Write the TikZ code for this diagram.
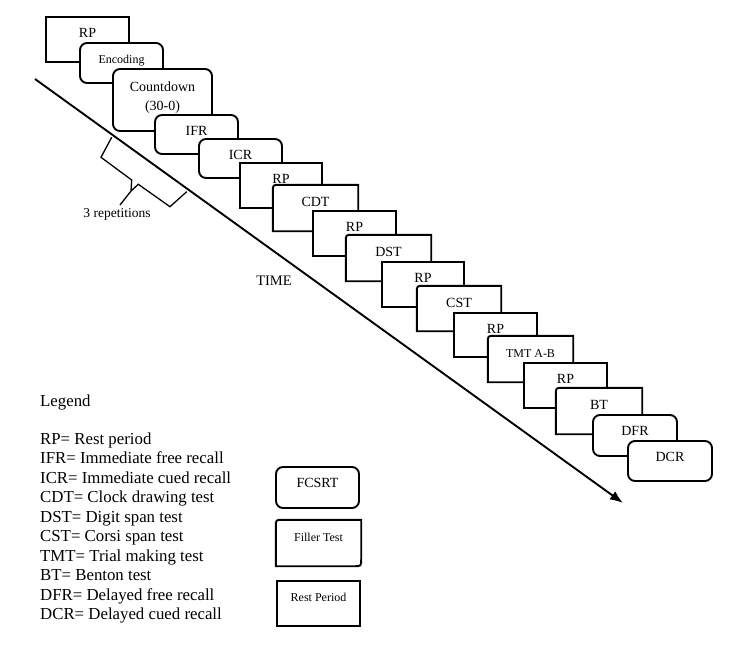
\documentclass[tikz,border=0pt]{standalone}
\usepackage{fontspec}
\setmainfont{Liberation Serif}
\usetikzlibrary{fit,calc,arrows.meta}
\tikzset{
  boxline/.style={line width=1.9pt, draw=black, fill=white},
  sqbox/.style={boxline, inner sep=0pt},
  rdbox/.style={boxline, inner sep=0pt, rounded corners=7pt},
  flbox/.style={inner sep=0pt},
  blbl/.style={inner sep=0pt, font=\fontsize{14}{16}\selectfont},
  slbl/.style={inner sep=0pt, font=\fontsize{12}{14}\selectfont},
  legtxt/.style={inner sep=0pt, anchor=base west, font=\fontsize{16.8}{19}\selectfont},
  timeline/.style={line width=1.9pt, -{Latex[length=13pt,width=10pt]}},
  braceline/.style={line width=1.3pt, line join=miter},
}
% square box
\newcommand\boxS[7]{%
  \node[sqbox, fit={(#2,#3) (#4,#5)}] (#1) {};
  \node[#7, anchor=base] (#1t) at ($(#1.north)+(0,21.5)$) {#6};}
% all rounded box
\newcommand\boxR[7]{%
  \node[rdbox, fit={(#2,#3) (#4,#5)}] (#1) {};
  \node[#7, anchor=base] (#1t) at ($(#1.north)+(0,21.5)$) {#6};}
% filler box: top-left and bottom-right rounded
\newcommand\boxF[7]{%
  \node[flbox, fit={(#2,#3) (#4,#5)}] (#1) {};
  \draw[boxline] (#1.south west) -- ($(#1.north west)+(0,7)$)
    .. controls (#1.north west) .. ($(#1.north west)+(7,0)$)
    -- (#1.north east) -- ($(#1.south east)+(0,-7)$)
    .. controls (#1.south east) .. ($(#1.south east)+(-7,0)$) -- cycle;
  \node[#7, anchor=base] (#1t) at ($(#1.north)+(0,21.5)$) {#6};}
\begin{document}
\begin{tikzpicture}[x=1pt,y=-1pt]
\useasboundingbox (0,0) rectangle (745,646);

% time line
\coordinate (ts) at (35,79);
\coordinate (te) at (623,503);
\draw[timeline] (ts) -- (te);

% brace for repetitions
\coordinate (b1) at (111.7,137.3);
\coordinate (b2) at (101,157.3);
\coordinate (b3) at (131.7,180);
\coordinate (b4) at (131,191);
\coordinate (b5) at (138.3,184.3);
\coordinate (b6) at (170,206.7);
\coordinate (b7) at (186.7,191.7);
\coordinate (b8) at (120,205);
\draw[braceline] (b1) -- (b2) -- (b3) -- (b4) -- (b5) -- (b6) -- (b7);
\draw[braceline] (b4) -- (b8);
\node[blbl, font=\fontsize{13.5}{15}\selectfont] (rep) at (117,214) {3 repetitions};
\node[blbl, font=\fontsize{14.5}{16}\selectfont] (time) at (274,281) {TIME};

% boxes
\boxS{rpa}{46}{17}{129}{62}{RP}{blbl}
\boxR{enc}{80}{43}{163}{83}{Encoding}{slbl}
\node[rdbox, fit={(113,69) (212,131)}] (cnt) {};
\node[blbl, align=center, font=\fontsize{14}{19}\selectfont] (cntt) at (162.5,97.5) {Countdown\\(30-0)};
\boxR{ifr}{155}{115}{238}{154}{IFR}{blbl}
\boxR{icr}{199}{139}{282}{178}{ICR}{blbl}
\boxS{rpb}{240}{163}{322}{208}{RP}{blbl}
\boxF{cdt}{273}{185}{358}{231}{CDT}{blbl}
\boxS{rpc}{313}{211}{396}{256}{RP}{blbl}
\boxF{dst}{346}{235}{431}{281}{DST}{blbl}
\boxS{rpd}{382}{262}{464}{307}{RP}{blbl}
\boxF{cst}{417}{286}{501}{331}{CST}{blbl}
\boxS{rpe}{454}{313}{537}{357}{RP}{blbl}
\boxF{tmt}{488}{336}{573}{382}{TMT A-B}{slbl}
\boxS{rpf}{524}{363}{607}{408}{RP}{blbl}
\boxF{bt}{556}{388}{642}{434}{BT}{blbl}
\boxR{dfr}{593}{415}{677}{456}{DFR}{blbl}
\boxR{dcr}{628}{441}{712}{481}{DCR}{blbl}

% legend
\node[legtxt] (leg) at (40,406) {Legend};
\foreach \t [count=\i] in {RP= Rest period, IFR= Immediate free recall, ICR= Immediate cued recall, CDT= Clock drawing test, DST= Digit span test, CST= Corsi span test, TMT= Trial making test, BT= Benton test, DFR= Delayed free recall, DCR= Delayed cued recall}
  \node[legtxt] (leg\i) at (40,{444.3+19.5*(\i-1)}) {\t};

\boxR{kfc}{276}{467}{359}{508}{FCSRT}{blbl}
\boxF{kfl}{276}{520}{361}{566}{Filler Test}{slbl}
\boxS{krp}{277}{581}{360}{626}{Rest Period}{slbl}
\end{tikzpicture}
\end{document}
